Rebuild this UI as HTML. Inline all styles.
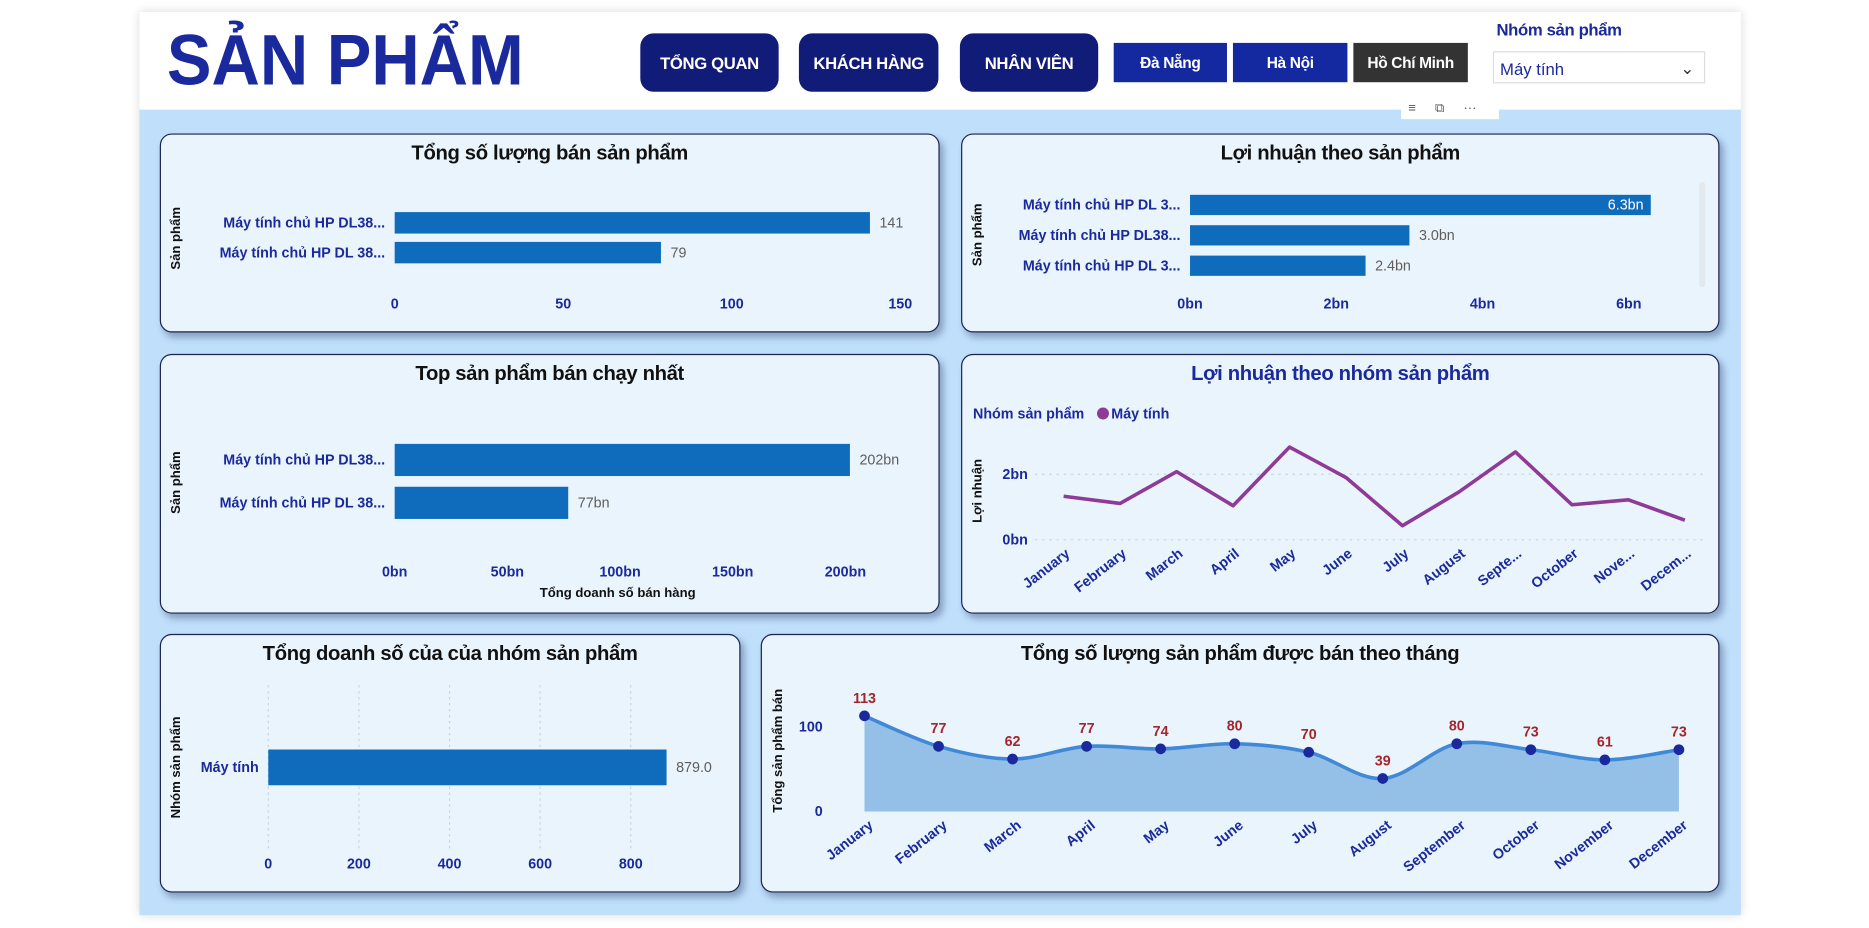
<!DOCTYPE html>
<html><head><meta charset="utf-8">
<style>
html,body{margin:0;padding:0;background:#fff;overflow:hidden;width:1869px;height:928px}
#root{position:absolute;left:0;top:0;width:1560px;height:775px;transform:scale(1.1924,1.1916);transform-origin:0 0;font-family:"Liberation Sans","DejaVu Sans",sans-serif}
.abs{position:absolute}
#page{left:117px;top:10px;width:1343px;height:758px;background:#bfdffb;box-shadow:0 0 8px rgba(0,0,0,.15)}
#header{left:117px;top:10px;width:1343px;height:82px;background:#fff}
.title{left:140px;top:16px;font-size:60px;font-weight:bold;color:#1a2a9c;transform:scaleX(0.935);transform-origin:0 0;white-space:nowrap}
.nav{background:#111b78;color:#fff;border-radius:11px;font-weight:bold;font-size:14px;display:flex;align-items:center;justify-content:center;letter-spacing:-0.3px}
.city{color:#fff;font-weight:bold;font-size:13px;display:flex;align-items:center;justify-content:center;letter-spacing:-0.3px}
.card{background:#eaf4fd;border:1px solid #1b2350;border-radius:10px;box-shadow:3px 4px 6px rgba(30,40,90,.35)}
.ct{position:absolute;left:0;right:0;text-align:center;font-weight:bold;font-size:17px;color:#111;letter-spacing:-0.3px}
svg text{font-family:"Liberation Sans","DejaVu Sans",sans-serif}
</style></head><body>
<div id="root">
<div class="abs" id="page"></div>
<div class="abs" id="header"></div>
<div class="abs title">SẢN PHẨM</div>
<div class="abs nav" style="left:537px;top:28px;width:116px;height:49px">TỔNG QUAN</div>
<div class="abs nav" style="left:670px;top:28px;width:117px;height:49px">KHÁCH HÀNG</div>
<div class="abs nav" style="left:805px;top:28px;width:116px;height:49px">NHÂN VIÊN</div>
<div class="abs city" style="left:934px;top:36px;width:95px;height:33px;background:#1428a0">Đà Nẵng</div>
<div class="abs city" style="left:1034px;top:36px;width:96px;height:33px;background:#1428a0">Hà Nội</div>
<div class="abs city" style="left:1135px;top:36px;width:96px;height:33px;background:#333">Hồ Chí Minh</div>
<div class="abs" style="left:1255px;top:17px;font-size:14px;font-weight:bold;color:#1a2a9c;letter-spacing:-0.3px">Nhóm sản phẩm</div>
<div class="abs" style="left:1252px;top:43px;width:178px;height:27px;background:#fff;border:1px solid #ddd;font-size:14px;color:#1a2a9c;line-height:29px;padding-left:5px;box-sizing:border-box">Máy tính<span style="position:absolute;right:8px;top:-1px;color:#333;font-size:14px">&#8964;</span></div>
<div class="abs" style="left:1175px;top:82px;width:82px;height:18px;background:#fff;font-size:11px;color:#555;line-height:18px"><span style="margin-left:6px">≡</span><span style="margin-left:16px">⧉</span><span style="margin-left:16px">···</span></div>

<div class="abs card" style="left:134px;top:112px;width:652px;height:165px"><div class="ct" style="top:6px">Tổng số lượng bán sản phẩm</div></div>
<div class="abs card" style="left:806px;top:112px;width:634px;height:165px"><div class="ct" style="top:6px">Lợi nhuận theo sản phẩm</div></div>
<div class="abs card" style="left:134px;top:297px;width:652px;height:216px"><div class="ct" style="top:6px">Top sản phẩm bán chạy nhất</div></div>
<div class="abs card" style="left:806px;top:297px;width:634px;height:216px"><div class="ct" style="top:6px;color:#1a2a9c">Lợi nhuận theo nhóm sản phẩm</div></div>
<div class="abs card" style="left:134px;top:532px;width:485px;height:215px"><div class="ct" style="top:6px">Tổng doanh số của của nhóm sản phẩm</div></div>
<div class="abs card" style="left:638px;top:532px;width:802px;height:215px"><div class="ct" style="top:6px">Tổng số lượng sản phẩm được bán theo tháng</div></div>

<svg id="chart" class="abs" style="left:0;top:0" width="1560" height="775"></svg>
</div>
<script>
const qtyCats=["Máy tính chủ HP DL38...","Máy tính chủ HP DL 38..."];
const qtyVals=[141,79];
const qtyTicks=[0,50,100,150];
const profCats=["Máy tính chủ HP DL 3...","Máy tính chủ HP DL38...","Máy tính chủ HP DL 3..."];
const profVals=[6.3,3.0,2.4];
const profTicks=[0,2,4,6];
const topCats=["Máy tính chủ HP DL38...","Máy tính chủ HP DL 38..."];
const topVals=[202,77];
const topTicks=[0,50,100,150,200];
const grpCats=["Máy tính"];
const grpVals=[879.0];
const grpTicks=[0,200,400,600,800];
const profMonths=["January","February","March","April","May","June","July","August","Septe...","October","Nove...","Decem..."];
const profMonthVals=[1.33,1.11,2.08,1.04,2.83,1.9,0.43,1.46,2.68,1.07,1.22,0.6];
const profMonthTicks=[0,2];
const qMonths=["January","February","March","April","May","June","July","August","September","October","November","December"];
const qMonthVals=[113,77,62,77,74,80,70,39,80,73,61,73];
const qMonthTicks=[0,100];

const svg=document.getElementById('chart');
const NS='http://www.w3.org/2000/svg';
function mk(tag,attrs,txt){const e=document.createElementNS(NS,tag);for(const k in attrs)e.setAttribute(k,attrs[k]);if(txt!==undefined)e.textContent=txt;svg.appendChild(e);return e;}
function lin(d0,d1,r0,r1){return v=>r0+(v-d0)/(d1-d0)*(r1-r0);}
function ylabel(x,y,t){const e=mk('text',{x:x,y:y,transform:`rotate(-90 ${x} ${y})`,'text-anchor':'middle','font-size':11,'font-weight':'bold',fill:'#111'},t);

}

function hbar(o){
  const x=lin(0,o.max,o.x0,o.x1);
  o.ticks.forEach(t=>{
    if(o.grid){const g=mk('line',{x1:x(t),x2:x(t),y1:o.gy0,y2:o.gy1,stroke:'#c8d3de','stroke-dasharray':'2,3'});
    
    }
    const e=mk('text',{x:x(t),y:o.ty,'text-anchor':'middle','font-size':12,'font-weight':'bold',fill:'#1a2a9c'},t+o.suf);
    
    
  });
  o.cats.forEach((c,i)=>{
    const yc=o.y0+i*o.step;
    const l=mk('text',{x:o.x0-8,y:yc+4,'text-anchor':'end','font-size':12,'font-weight':'bold',fill:'#1a2a9c'},c);
    
    
    const b=mk('rect',{x:o.x0,y:yc-o.bh/2,width:x(o.vals[i])-o.x0,height:o.bh,fill:'#0f6cbd'});
    
    
    const inside=o.inside&&i===0;
    const v=mk('text',{x:inside?x(o.vals[i])-6:x(o.vals[i])+8,y:yc+4,'text-anchor':inside?'end':'start','font-size':12,fill:inside?'#fff':'#605e5c'},o.fmt(o.vals[i]));
    
    
  });
}
ylabel(151,200,'Sản phẩm');
hbar({cats:qtyCats,vals:qtyVals,ticks:qtyTicks,max:150,x0:331,x1:755,y0:187,step:25,bh:18,ty:259,suf:'',fmt:v=>v});
ylabel(823,197,'Sản phẩm');
hbar({cats:profCats,vals:profVals,ticks:profTicks,max:6,x0:998,x1:1366,y0:172,step:25.5,bh:17,ty:259,suf:'bn',fmt:v=>v.toFixed(1)+'bn',inside:true});
mk('rect',{x:1425,y:153,width:5,height:88,rx:2,fill:'#e4e9ee'});
ylabel(151,405,'Sản phẩm');
hbar({cats:topCats,vals:topVals,ticks:topTicks,max:200,x0:331,x1:709,y0:386,step:36,bh:27,ty:484,suf:'bn',fmt:v=>v+'bn'});
{const e=mk('text',{x:518,y:501,'text-anchor':'middle','font-size':11,'font-weight':'bold',fill:'#111'},'Tổng doanh số bán hàng');

}
ylabel(151,644,'Nhóm sản phẩm');
hbar({cats:grpCats,vals:grpVals,ticks:grpTicks,max:800,x0:225,x1:529,y0:644,step:30,bh:30,ty:729,suf:'',fmt:v=>v.toFixed(1),grid:true,gy0:575,gy1:712});

{
  const x=i=>892+i*(1413-892)/11, y=lin(0,2,453,398);
  let e=mk('text',{x:816,y:351,'font-size':12,'font-weight':'bold',fill:'#1a2a9c'},'Nhóm sản phẩm');
  
  
  e=mk('circle',{cx:925,cy:347,r:5,fill:'#8e3a96'});
  
  
  e=mk('text',{x:932,y:351,'font-size':12,'font-weight':'bold',fill:'#1a2a9c'},'Máy tính');
  
  
  ylabel(823,412,'Lợi nhuận');
  profMonthTicks.forEach(t=>{
    const g=mk('line',{x1:868,x2:1430,y1:y(t),y2:y(t),stroke:'#c8d3de','stroke-dasharray':'2,4'});
    
    
    const l=mk('text',{x:862,y:y(t)+4,'text-anchor':'end','font-size':12,'font-weight':'bold',fill:'#1a2a9c'},t+'bn');
    
    
  });
  const pts=profMonthVals.map((v,i)=>x(i)+','+y(v)).join(' ');
  const p=mk('polyline',{points:pts,fill:'none',stroke:'#8e3a96','stroke-width':3,'stroke-linejoin':'round'});
  
  
  profMonths.forEach((m,i)=>{
    const tx=x(i)+6,ty=466;
    const l=mk('text',{x:tx,y:ty,transform:`rotate(-38 ${tx} ${ty})`,'text-anchor':'end','font-size':12,'font-weight':'bold',fill:'#1a2a9c'},m);
    
    
  });
}
{
  const x=i=>725+i*(1408-725)/11, y=lin(0,100,681,610);
  ylabel(656,630,'Tổng sản phẩm bán');
  qMonthTicks.forEach(t=>{
    const l=mk('text',{x:690,y:y(t)+4,'text-anchor':'end','font-size':12,'font-weight':'bold',fill:'#1a2a9c'},t);
    
    
  });
  const P=qMonthVals.map((v,i)=>[x(i),y(v)]);
  let d='M'+P[0][0]+','+P[0][1];
  for(let i=0;i<P.length-1;i++){
    const p0=P[Math.max(0,i-1)],p1=P[i],p2=P[i+1],p3=P[Math.min(P.length-1,i+2)];
    const c1=[p1[0]+(p2[0]-p0[0])/6,p1[1]+(p2[1]-p0[1])/6],c2=[p2[0]-(p3[0]-p1[0])/6,p2[1]-(p3[1]-p1[1])/6];
    d+=` C${c1[0]},${c1[1]} ${c2[0]},${c2[1]} ${p2[0]},${p2[1]}`;
  }
  const a=mk('path',{d:d+` L${x(11)},${y(0)} L${x(0)},${y(0)} Z`,fill:'#94bfe6'});
  
  
  const l=mk('path',{d:d,fill:'none',stroke:'#3f89d6','stroke-width':3});
  
  
  P.forEach((p,i)=>{
    const c=mk('circle',{cx:p[0],cy:p[1],r:4.5,fill:'#1a2a9c'});
    
    
    const v=mk('text',{x:p[0],y:p[1]-11,'text-anchor':'middle','font-size':12,'font-weight':'bold',fill:'#a4262c'},qMonthVals[i]);
    
    
    const tx=x(i)+8,ty=694;
    const t=mk('text',{x:tx,y:ty,transform:`rotate(-38 ${tx} ${ty})`,'text-anchor':'end','font-size':12,'font-weight':'bold',fill:'#1a2a9c'},qMonths[i]);
    
    
  });
}
</script>
</body></html>
